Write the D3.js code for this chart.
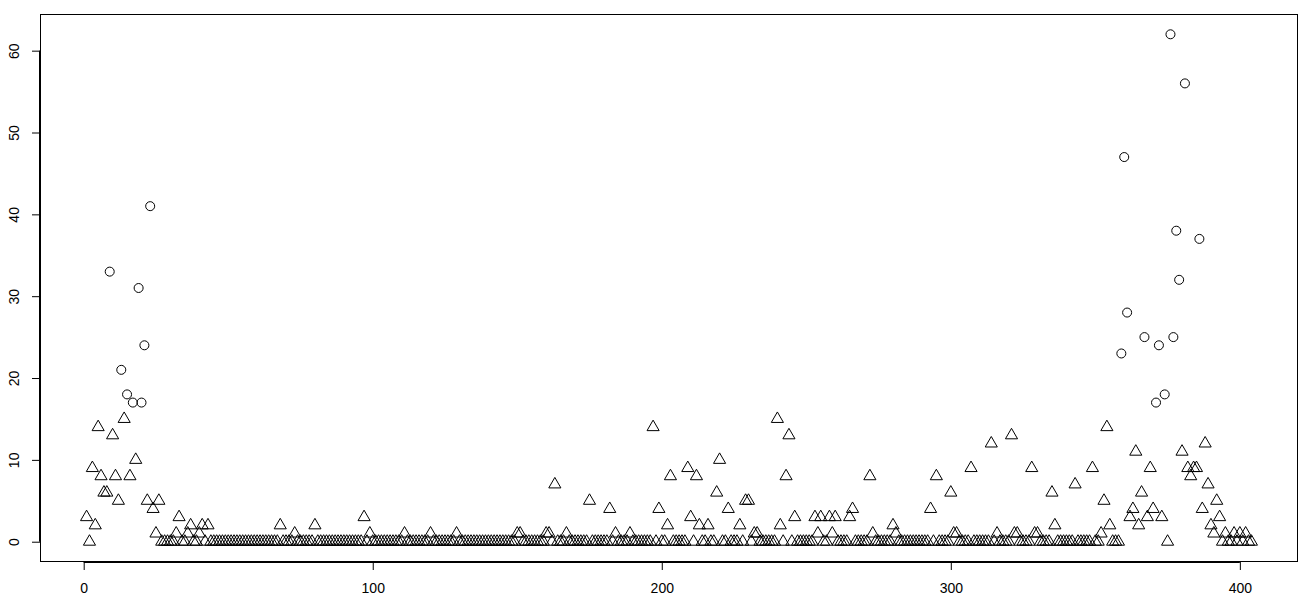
<!DOCTYPE html>
<html>
<head>
<meta charset="utf-8">
<script src="https://cdn.jsdelivr.net/npm/d3@7"></script>
<style>
    html, body { margin: 0; padding: 0; background: #fff; }
    svg { display: block; font-family: "Liberation Sans", Arial, sans-serif; }
</style>
</head>
<body>
<svg id="chart" width="1308" height="602"></svg>
<script>
// counts by index (1..404)
const counts = [
    3, 0, 9, 2, 14, 8, 6, 6, 33, 13, 8, 5, 21, 15, 18, 8, 17, 10, 31, 17,
    24, 5, 41, 4, 1, 5, 0, 0, 0, 0, 0, 1, 3, 0, 0, 1, 2, 0, 0, 1,
    2, 0, 2, 0, 0, 0, 0, 0, 0, 0, 0, 0, 0, 0, 0, 0, 0, 0, 0, 0,
    0, 0, 0, 0, 0, 0, 0, 2, 0, 0, 0, 0, 1, 0, 0, 0, 0, 0, 0, 2,
    0, 0, 0, 0, 0, 0, 0, 0, 0, 0, 0, 0, 0, 0, 0, 0, 3, 0, 1, 0,
    0, 0, 0, 0, 0, 0, 0, 0, 0, 0, 1, 0, 0, 0, 0, 0, 0, 0, 0, 1,
    0, 0, 0, 0, 0, 0, 0, 0, 1, 0, 0, 0, 0, 0, 0, 0, 0, 0, 0, 0,
    0, 0, 0, 0, 0, 0, 0, 0, 0, 1, 1, 0, 0, 0, 0, 0, 0, 0, 0, 1,
    1, 0, 7, 0, 0, 0, 1, 0, 0, 0, 0, 0, 0, 0, 5, 0, 0, 0, 0, 0,
    0, 4, 0, 1, 0, 0, 0, 0, 1, 0, 0, 0, 0, 0, 0, 0, 14, 0, 4, 0,
    0, 2, 8, 0, 0, 0, 0, 0, 9, 3, 0, 8, 2, 0, 0, 2, 0, 0, 6, 10,
    0, 0, 4, 0, 0, 0, 2, 0, 5, 5, 0, 1, 1, 0, 0, 0, 0, 0, 0, 15,
    2, 0, 8, 13, 0, 3, 0, 0, 0, 0, 0, 0, 3, 1, 3, 0, 0, 3, 1, 3,
    0, 0, 0, 0, 3, 4, 0, 0, 0, 0, 0, 8, 1, 0, 0, 0, 0, 0, 0, 2,
    1, 0, 0, 0, 0, 0, 0, 0, 0, 0, 0, 0, 4, 0, 8, 0, 0, 0, 0, 6,
    1, 1, 0, 0, 0, 0, 9, 0, 0, 0, 0, 0, 0, 12, 0, 1, 0, 0, 0, 0,
    13, 1, 1, 0, 0, 0, 0, 9, 1, 1, 0, 0, 0, 0, 6, 2, 0, 0, 0, 0,
    0, 0, 7, 0, 0, 0, 0, 0, 9, 0, 0, 1, 5, 14, 2, 0, 0, 0, 23, 47,
    28, 3, 4, 11, 2, 6, 25, 3, 9, 4, 17, 24, 3, 18, 0, 62, 25, 38, 32, 11,
    56, 9, 8, 9, 9, 37, 4, 12, 7, 2, 1, 5, 3, 0, 1, 0, 0, 1, 0, 1,
    0, 1, 0, 0,
];
const x_ticks = [0, 100, 200, 300, 400];
const y_ticks = [0, 10, 20, 30, 40, 50, 60];
const circle_above = 16;   // values above this are drawn as open circles

const width = 1308;
const height = 602;
const box = {left: 40, right: 1298, top: 14, bottom: 562};


function draw_chart() {
    const svg = d3.select('#chart');
    const points = counts.map((v, i) => ({idx: i + 1, value: v}));

    // R style: pad the data range by 4% on each side
    const x_ext = d3.extent(points, d => d.idx);
    const y_ext = [0, d3.max(points, d => d.value)];
    const x_pad = (x_ext[1] - x_ext[0]) * 0.04;
    const y_pad = (y_ext[1] - y_ext[0]) * 0.04;

    const x = d3.scaleLinear()
        .domain([x_ext[0] - x_pad, x_ext[1] + x_pad])
        .range([box.left, box.right]);
    const y = d3.scaleLinear()
        .domain([y_ext[0] - y_pad, y_ext[1] + y_pad])
        .range([box.bottom, box.top]);

    const x_axis = svg.append('g')
        .attr('transform', `translate(0, ${box.bottom})`)
        .call(
            d3.axisBottom(x)
                .tickValues(x_ticks)
                .tickSize(8)
                .tickPadding(13)
                .tickSizeOuter(0)
        );
    x_axis.select('.domain')
        .attr('d', `M${x(x_ticks[0])},0.5H${x(x_ticks[x_ticks.length - 1])}`);

    const y_axis = svg.append('g')
        .attr('transform', `translate(${box.left}, 0)`)
        .call(
            d3.axisLeft(y)
                .tickValues(y_ticks)
                .tickSize(8)
                .tickSizeOuter(0)
        );
    y_axis.select('.domain')
        .attr('d', `M-0.5,${y(y_ticks[0])}V${y(y_ticks[y_ticks.length - 1])}`);
    y_axis.selectAll('.tick text')
        .attr('x', null)
        .attr('dy', null)
        .attr('text-anchor', 'middle')
        .attr('transform', 'translate(-26, 0) rotate(-90)')
        .attr('dominant-baseline', 'central');

    svg.selectAll('.tick text')
        .attr('font-size', 14)
        .attr('font-family', '"Liberation Sans", Arial, sans-serif')
        .attr('fill', '#000');
    svg.selectAll('.tick line, .domain')
        .attr('stroke', '#000');

    // plot box
    svg.append('rect')
        .attr('x', box.left + 0.5)
        .attr('y', box.top + 0.5)
        .attr('width', box.right - box.left - 1)
        .attr('height', box.bottom - box.top - 1)
        .attr('fill', 'none')
        .attr('stroke', '#000')
        .attr('stroke-width', 1);

    // pch 2 triangle and pch 1 circle, sized like R at cex = 1
    const s = 4.5;
    const tri = `M0,${-1.555 * s}L${1.347 * s},${0.7776 * s}L${-1.347 * s},${0.7776 * s}Z`;

    const marks = svg.append('g')
        .attr('fill', 'none')
        .attr('stroke', '#000')
        .attr('stroke-width', 1);

    marks.selectAll('path')
        .data(points.filter(d => d.value <= circle_above))
        .join('path')
        .attr('d', tri)
        .attr('transform', d => `translate(${x(d.idx)}, ${y(d.value)})`)
    ;

    marks.selectAll('circle')
        .data(points.filter(d => d.value > circle_above))
        .join('circle')
        .attr('cx', d => x(d.idx))
        .attr('cy', d => y(d.value))
        .attr('r', s)
    ;
}


draw_chart();
</script>
</body>
</html>
